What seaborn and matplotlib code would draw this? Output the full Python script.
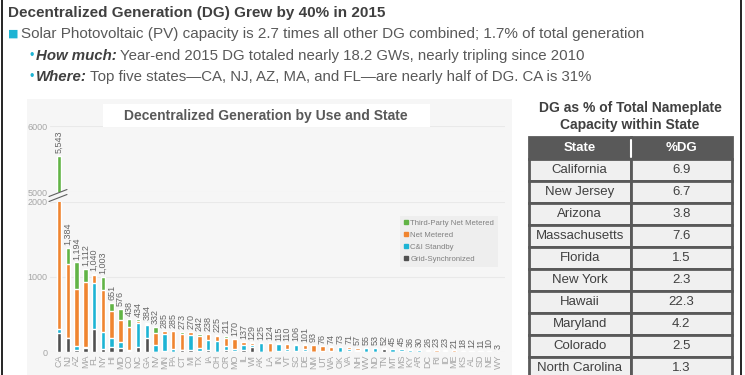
import matplotlib
matplotlib.use("Agg")
import matplotlib.pyplot as plt
import seaborn as sns
import numpy as np
import pandas as pd
from matplotlib.lines import Line2D
from matplotlib.patches import Rectangle

# DG capacity (MW) by state and use
states = ["CA", "NJ", "AZ", "MA", "FL", "NY", "HI", "MD", "CO", "NC", "GA", "NV", "MN",
          "PA", "CT", "MI", "TX", "IA", "OH", "OR", "MO", "IL", "WI", "AK", "LA", "IN",
          "VT", "SC", "DE", "NM", "UT", "WA", "OK", "VA", "NH", "WV", "ND", "TN", "MT",
          "MS", "KY", "AR", "DC", "RI", "ID", "ME", "KS", "AL", "SD", "NE", "WY"]
totals = [5543, 1384, 1194, 1112, 1040, 1003, 651, 576, 438, 434, 384, 332, 285,
          285, 273, 270, 242, 238, 225, 211, 170, 137, 129, 125, 124, 115,
          110, 106, 101, 93, 76, 74, 73, 71, 57, 55, 53, 52, 45,
          45, 36, 30, 26, 23, 23, 21, 18, 12, 11, 10, 3]
grid_sync = [260, 185, 25, 50, 305, 36, 62, 53, 18, 62, 191, 0, 15,
             5, 25, 27, 18, 30, 5, 27, 10, 27, 71, 0, 0, 10,
             10, 20, 10, 0, 5, 0, 5, 10, 20, 0, 0, 45, 5,
             20, 5, 5, 12, 0, 5, 0, 10, 5, 3, 3, 1]
ci_standby = [45, 0, 55, 15, 615, 235, 120, 76, 9, 325, 169, 93, 230,
              40, 0, 200, 32, 125, 140, 55, 25, 62, 27, 122, 5, 100,
              25, 80, 30, 3, 10, 10, 65, 25, 5, 55, 53, 5, 30,
              25, 28, 22, 5, 3, 5, 2, 5, 7, 8, 5, 1]
net_metered = [3700, 990, 756, 872, 110, 556, 369, 298, 302, 31, 15, 165, 35,
               235, 215, 40, 163, 80, 75, 100, 133, 45, 28, 3, 117, 5,
               70, 6, 58, 88, 61, 62, 3, 34, 30, 0, 0, 2, 10,
               0, 3, 3, 9, 20, 13, 19, 3, 0, 0, 2, 1]
third_party = [1538, 209, 358, 175, 10, 176, 100, 149, 109, 16, 9, 74, 5,
               5, 33, 3, 29, 3, 5, 29, 2, 3, 3, 0, 2, 0,
               5, 0, 3, 2, 0, 2, 0, 2, 2, 0, 0, 0, 0,
               0, 0, 0, 0, 0, 0, 0, 0, 0, 0, 0, 0]

table_states = ["California", "New Jersey", "Arizona", "Massachusetts", "Florida",
                "New York", "Hawaii", "Maryland", "Colorado", "North Carolina"]
table_pct = ["6.9", "6.7", "3.8", "7.6", "1.5", "2.3", "22.3", "4.2", "2.5", "1.3"]

GREEN, ORANGE, CYAN, DARK = "#62b446", "#f08530", "#1db4d4", "#505050"

sns.set_style("white")
plt.rcParams["font.family"] = ["Liberation Sans", "DejaVu Sans"]

W, H = 745, 375
fig = plt.figure(figsize=(W / 100, H / 100), dpi=100)


def fx(px):
    return px / W


def fy(py):
    return 1 - py / H


# grey chart panel
fig.add_artist(Rectangle((fx(27), fy(376)), fx(512) - fx(27), fy(99) - fy(376),
                         transform=fig.transFigure, facecolor="#f6f6f6", edgecolor="none", zorder=0))

df = pd.DataFrame({"state": states, "grid": grid_sync, "ci": ci_standby,
                   "nm": net_metered, "tp": third_party})
df["l_grid"] = df["grid"]
df["l_ci"] = df["l_grid"] + df["ci"]
df["l_nm"] = df["l_ci"] + df["nm"]
df["l_tp"] = df["l_nm"] + df["tp"]

ax_top = fig.add_axes([fx(50), fy(192), fx(505) - fx(50), fy(126) - fy(192)])
ax_bot = fig.add_axes([fx(50), fy(352), fx(505) - fx(50), fy(202) - fy(352)])

for ax in (ax_top, ax_bot):
    ax.set_facecolor("none")
    for col, color in [("l_tp", GREEN), ("l_nm", ORANGE), ("l_ci", CYAN), ("l_grid", DARK)]:
        sns.barplot(data=df, x="state", y=col, color=color, saturation=1, width=0.5,
                    errorbar=None, ax=ax, zorder=2)
    ax.set_xlim(-1.025, 50.8)
    ax.set_xlabel("")
    ax.set_ylabel("")
    ax.yaxis.grid(True, color="#e9e9e9", lw=0.8)
    ax.set_axisbelow(True)
    sns.despine(ax=ax, left=True, bottom=True)
    ax.tick_params(axis="both", length=0, labelsize=6.5, labelcolor="#a6a6a6", pad=2)

ax_top.set_ylim(5000, 6000)
ax_top.set_yticks([5000, 6000])
ax_top.set_xticks([])
ax_bot.set_ylim(0, 2000)
ax_bot.set_yticks([0, 1000, 2000])
ax_bot.set_xticks(range(len(states)))
ax_bot.set_xticklabels(states, rotation=90)

for i, t in enumerate(totals):
    ax = ax_top if t > 2000 else ax_bot
    ax.annotate(f"{t:,}", (i, t), xytext=(0, 2), textcoords="offset points",
                rotation=90, ha="center", va="bottom", fontsize=6.5, color="#666666",
                annotation_clip=False)

# axis break marks
for y0, y1 in [(196.5, 189.5), (201.5, 194.5)]:
    fig.add_artist(Line2D([fx(49), fx(67)], [fy(y0), fy(y1)], color="#606060", lw=0.8))

handles = [Line2D([], [], marker="s", ls="", color=c, markersize=3, label=l)
           for c, l in [(GREEN, "Third-Party Net Metered"), (ORANGE, "Net Metered"),
                        (CYAN, "C&I Standby"), (DARK, "Grid-Synchronized")]]
fig.legend(handles=handles, loc="upper left", bbox_to_anchor=(fx(396), fy(212)),
           frameon=True, fancybox=False, facecolor="#eeeeee", edgecolor="none", framealpha=1,
           fontsize=5.6, labelcolor="#808080", handlelength=0.6, handletextpad=0.3,
           labelspacing=0.6, borderpad=0.45)

# chart title box
fig.add_artist(Rectangle((fx(103), fy(127)), fx(430) - fx(103), fy(104) - fy(127),
                         transform=fig.transFigure, facecolor="white", edgecolor="none", zorder=1))
fig.text(fx(266), fy(116), "Decentralized Generation by Use and State", ha="center", va="center",
         fontsize=10, weight="bold", color="#595959")

# slide text
renderer = fig.canvas.get_renderer()


def rich(x, y, parts):
    for text, kw in parts:
        t = fig.text(fx(x), fy(y), text, va="center", **kw)
        x = t.get_window_extent(renderer).x1 + 3


fig.text(fx(8), fy(13), "Decentralized Generation (DG) Grew by 40% in 2015", va="center",
         fontsize=11, weight="bold", color="#404040")
fig.text(fx(8), fy(34), "■", va="center", fontsize=8, color=CYAN, family="DejaVu Sans")
fig.text(fx(21), fy(34), "Solar Photovoltaic (PV) capacity is 2.7 times all other DG combined; 1.7% of total generation",
         va="center", fontsize=11, color="#595959")
body = dict(fontsize=10.8, color="#595959")
emph = dict(fontsize=10.8, color="#404040", weight="bold", style="italic")
fig.text(fx(29), fy(56), "•", va="center", fontsize=9, color=CYAN)
rich(36, 56, [("How much:", emph), ("Year-end 2015 DG totaled nearly 18.2 GWs, nearly tripling since 2010", body)])
fig.text(fx(29), fy(77), "•", va="center", fontsize=9, color=CYAN)
rich(36, 77, [("Where:", emph), ("Top five states\u2014CA, NJ, AZ, MA, and FL\u2014are nearly half of DG. CA is 31%", body)])

# table
fig.text(fx(630), fy(108), "DG as % of Total Nameplate", ha="center", va="center",
         fontsize=10, weight="bold", color="#404040")
fig.text(fx(630), fy(125), "Capacity within State", ha="center", va="center",
         fontsize=10, weight="bold", color="#404040")
tax = fig.add_axes([fx(529), fy(379), fx(732) - fx(529), fy(137) - fy(379)])
tax.axis("off")
tbl = tax.table(cellText=[[s, p] for s, p in zip(table_states, table_pct)],
                colLabels=["State", "%DG"], bbox=[0, 0, 1, 1], cellLoc="center")
tbl.auto_set_font_size(False)
tbl.set_fontsize(9.5)
for (r, c), cell in tbl.get_celld().items():
    cell.set_edgecolor("#595959")
    cell.set_linewidth(2)
    if r == 0:
        cell.set_facecolor("#595959")
        cell.get_text().set_color("white")
        cell.get_text().set_weight("bold")
    else:
        cell.set_facecolor("#f0f0f0")
        cell.get_text().set_color("#404040")
fig.add_artist(Line2D([fx(631), fx(631)], [fy(140), fy(157)], color="white", lw=1.5, zorder=5))

# slide frame
for xp in (1.5, 741):
    fig.add_artist(Line2D([fx(xp), fx(xp)], [0, 1], color="black", lw=1.2))

fig.savefig("out.png", dpi=100)
